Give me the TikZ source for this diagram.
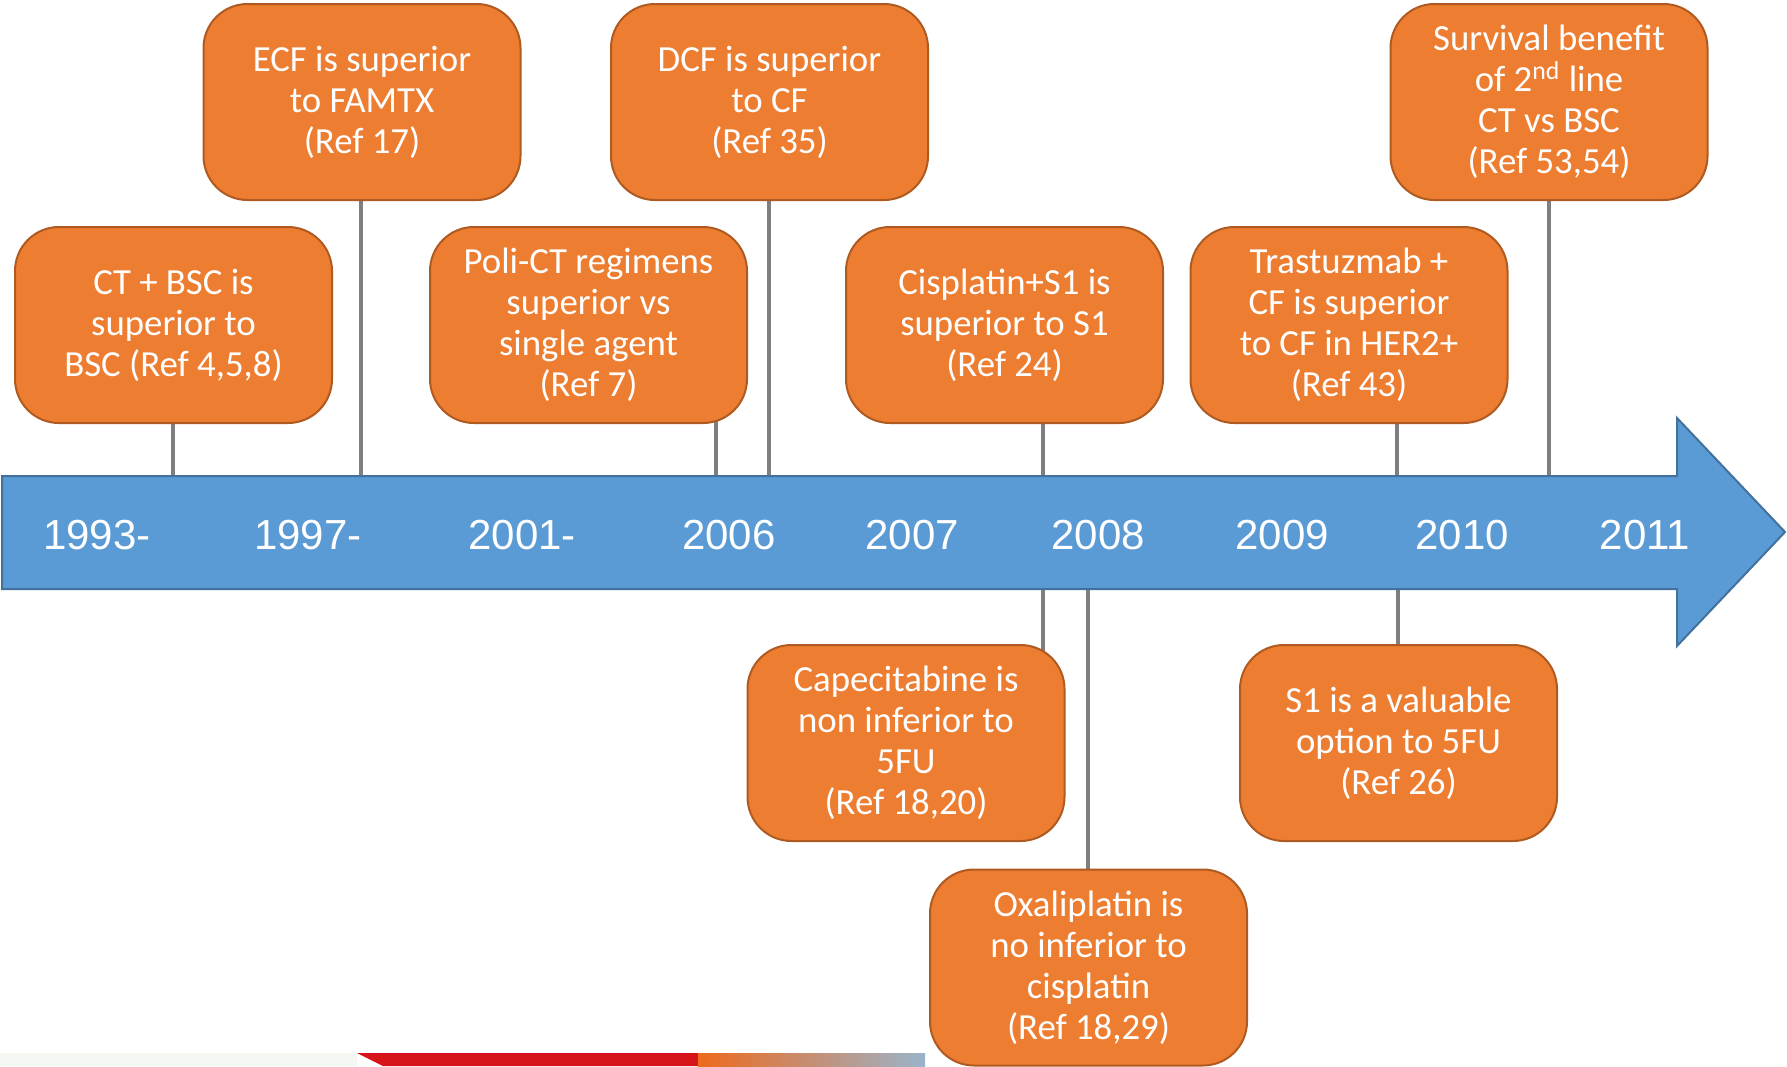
\documentclass[tikz,border=0pt]{standalone}
\usepackage{fontspec}
\setmainfont{Carlito}
\newfontfamily\yearfont{Liberation Sans}
\usetikzlibrary{backgrounds}
\definecolor{bar}{HTML}{5B9BD5}
\definecolor{barline}{HTML}{41719C}
\definecolor{evt}{HTML}{ED7D31}
\definecolor{evtline}{HTML}{AE5A21}
\definecolor{stemgray}{HTML}{7F7F7F}
\definecolor{stripred}{HTML}{D8141B}
\definecolor{striporange}{HTML}{EE6A1C}
\definecolor{stripblue}{HTML}{9AB4CC}
\definecolor{stripfaint}{HTML}{F5F7F2}

\begin{document}
\begin{tikzpicture}[
  x=0.5pt,y=-0.5pt,
  event/.style={draw=evtline,line width=1pt,fill=evt,rounded corners=22pt,
    minimum width=158.5pt,minimum height=98pt,inner sep=0pt,align=center,
    text=white,font=\fontsize{18.4}{20.5}\selectfont},
  stem/.style={stemgray,line width=2.2pt},
  yearlbl/.style={text=white,font=\yearfont\fontsize{21}{25}\selectfont,inner sep=0pt}]
\useasboundingbox (0,0) rectangle (1787,1066);
% timeline arrow
\draw[fill=bar,draw=barline,line width=1pt] (2,476) -- (1677,476) -- (1677,418) -- (1785,532)
  -- (1677,646) -- (1677,589) -- (2,589) -- cycle;
\foreach \xx/\yr [count=\i] in {97/1993-,308/1997-,522/2001-,729/2006,912/2007,1098/2008,1282/2009,1462/2010,1645/2011}
  \node[yearlbl] (yr\i) at (\xx,535) {\yr};
% events above
\node[event] (ctbsc) at (173.5,325) {CT + BSC is\\superior to\\BSC (Ref 4,5,8)};
\node[event] (ecf) at (362,102) {ECF is superior\\to FAMTX\\(Ref 17)};
\node[event] (poli) at (588.5,325) {Poli-CT regimens\\superior vs\\single agent\\(Ref 7)};
\node[event] (dcf) at (769.5,102) {DCF is superior\\to CF\\(Ref 35)};
\node[event] (cis) at (1004.5,325) {Cisplatin+S1 is\\superior to S1\\(Ref 24)};
\node[event] (tras) at (1349,325) {Trastuzmab +\\CF is superior\\to CF in HER2+\\(Ref 43)};
\node[event] (surv) at (1549,102) {Survival benefit\\of 2\textsuperscript{nd} line\\CT vs BSC\\(Ref 53,54)};
% events below
\node[event] (cape) at (906,743) {Capecitabine is\\non inferior to\\5FU\\(Ref 18,20)};
\node[event] (oxa) at (1088.5,967.5) {Oxaliplatin is\\no inferior to\\cisplatin\\(Ref 18,29)};
\node[event] (sone) at (1398.5,743) {S1 is a valuable\\option to 5FU\\(Ref 26)};
% stems
\coordinate (s1) at (173,476);
\coordinate (s2) at (361,476);
\coordinate (s3) at (716,476);
\coordinate (s4) at (769,476);
\coordinate (s5) at (1043,476);
\coordinate (s6) at (1397,476);
\coordinate (s7) at (1549,476);
\coordinate (b1) at (1043,589);
\coordinate (b2) at (1088,589);
\coordinate (b3) at (1398,589);
\begin{scope}[on background layer]
\foreach \s/\b in {s1/ctbsc,s2/ecf,s3/poli,s4/dcf,s5/cis,s6/tras,s7/surv,b1/cape,b2/oxa,b3/sone}
  \draw[stem] (\s) -- (\s |- \b.center);
\end{scope}
% photo strip cut at the bottom
\fill[stripfaint] (0,1053) rectangle (357,1066);
\fill[stripred] (357,1053) -- (698,1053) -- (698,1066) -- (383,1066) -- cycle;
\shade[left color=striporange,right color=stripblue] (698,1053) rectangle (925,1066);
\end{tikzpicture}
\end{document}
